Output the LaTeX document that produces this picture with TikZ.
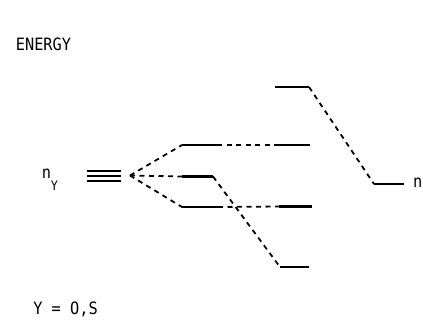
\documentclass[tikz,border=0pt]{standalone}
\usepackage{fontspec}
\newfontfamily\plotfont[FakeStretch=0.9]{DejaVu Sans Mono}
\begin{document}
\begin{tikzpicture}[x=1pt,y=-1pt,
  level/.style={line width=2.5pt},
  conn/.style={line width=1.8pt,dash pattern=on 5pt off 4.5pt},
  lbl/.style={inner sep=0pt,font=\plotfont\fontsize{17}{19}\selectfont},
  sub/.style={inner sep=0pt,font=\plotfont\fontsize{13}{15}\selectfont}]
\useasboundingbox (0,0) rectangle (423,322);
% labels
\node[lbl] (energy) at (43.5,44.5) {ENERGY};
\node[lbl] (nlab) at (46.5,173.5) {n};
\node[sub] (ysub) at (54.5,185.5) {Y};
\node[lbl] (ylab) at (65.5,309.5) {Y = O,S};
% degenerate level
\coordinate (t1L) at (87,170.5); \coordinate (t1R) at (121,170.5);
\coordinate (t2L) at (87,175.5); \coordinate (t2R) at (121,175.5);
\coordinate (t3L) at (87,180.5); \coordinate (t3R) at (121,180.5);
\draw[level,line width=2pt] (t1L) -- (t1R);
\draw[level,line width=2pt] (t2L) -- (t2R);
\draw[level,line width=2pt] (t3L) -- (t3R);
\coordinate (src) at (130,175.5);
% split levels
\coordinate (aL) at (182,145); \coordinate (aR) at (217,145);
\coordinate (bL) at (182,176.5); \coordinate (bR) at (213,176.5);
\coordinate (cL) at (182,207); \coordinate (cR) at (218,207);
\draw[level] (aL) -- (aR);
\draw[level] (bL) -- (bR);
\draw[level] (cL) -- (cR);
% right levels
\coordinate (dL) at (279,145); \coordinate (dR) at (310,145);
\coordinate (eL) at (279,206.5); \coordinate (eR) at (312,206.5);
\coordinate (fL) at (280,267); \coordinate (fR) at (309,267);
\coordinate (gL) at (275,87); \coordinate (gR) at (309,87);
\coordinate (hL) at (374,184); \coordinate (hR) at (404,184);
\draw[level] (dL) -- (dR);
\draw[level] (eL) -- (eR);
\draw[level] (fL) -- (fR);
\draw[level] (gL) -- (gR);
\draw[level] (hL) -- (hR);
\node[lbl,anchor=west] (nr) at (413,182.5) {n};
% connectors
\draw[conn] (src) -- (aL);
\draw[conn] (src) -- (bL);
\draw[conn] (src) -- (cL);
\draw[conn] (aR) -- (dL);
\draw[conn] (cR) -- (eL);
\draw[conn] (bR) -- (fL);
\draw[conn] (gR) -- (hL);
\end{tikzpicture}
\end{document}
